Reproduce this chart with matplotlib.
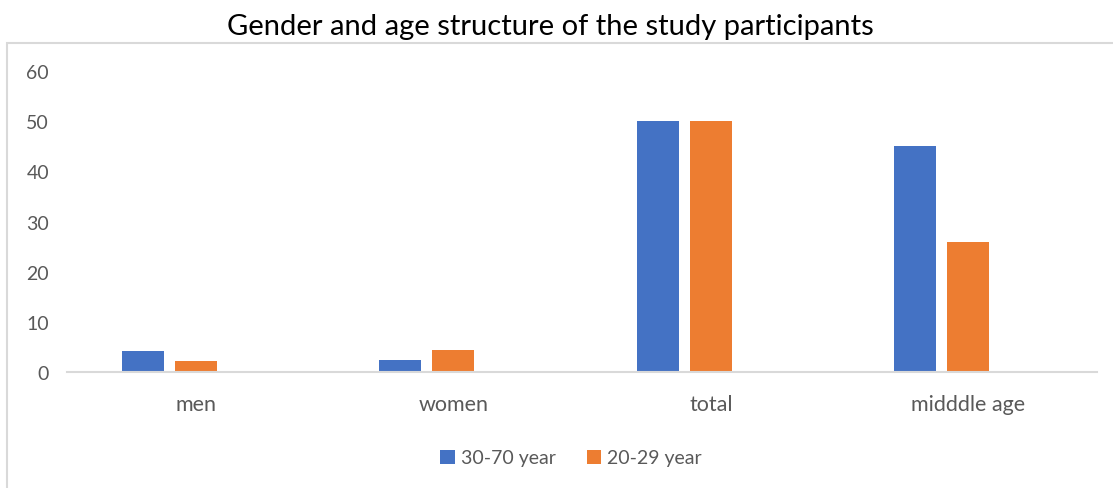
import matplotlib
matplotlib.use("Agg")
from matplotlib import pyplot as plt
from matplotlib.patches import Rectangle
import numpy as np

plt.rcParams['font.family'] = ['Lato', 'DejaVu Sans']

categories = ["men", "women", "total", "midddle age"]
series_names = ["30-70 year", "20-29 year"]
blue_vals = [4.2, 2.4, 50, 45]
orange_vals = [2.2, 4.3, 50, 26]

blue = "#4472C4"
orange = "#ED7D31"
grey = "#595959"

fig = plt.figure(figsize=(11.13, 4.89), dpi=100)

# outer chart frame (cropped in the reference)
fig.patches.append(Rectangle((7 / 1113, -0.1), 1.2, 1 - 44 / 489 + 0.1,
                             transform=fig.transFigure, fill=False,
                             edgecolor="#D9D9D9", linewidth=1.5))

ax = fig.add_axes([67 / 1113, 1 - 373 / 489, 1030 / 1113, 301 / 489])

x = np.arange(len(categories))
w = 42 / 257.5
step = 53 / 257.5
ax.bar(x - step, blue_vals, w, color=blue, label=series_names[0])
ax.bar(x, orange_vals, w, color=orange, label=series_names[1])

ax.set_xlim(-0.5, 3.5)
ax.set_ylim(0, 60)
ax.set_yticks(range(0, 61, 10))
ax.set_xticks(x)
ax.set_xticklabels(categories)

for s in ["top", "right", "left"]:
    ax.spines[s].set_visible(False)
ax.spines["bottom"].set_color("#D9D9D9")
ax.spines["bottom"].set_linewidth(1.5)
ax.tick_params(axis="both", length=0, colors=grey)
ax.tick_params(axis="x", pad=16, labelsize=15.5)
ax.tick_params(axis="y", pad=13, labelsize=14)

fig.text(550 / 1113, 1 - 27 / 489, "Gender and age structure of the study participants",
         ha="center", va="center", fontsize=21, color="black")

fig.legend(loc="center", bbox_to_anchor=(571 / 1113, 1 - 459 / 489), ncol=2,
           frameon=False, fontsize=14, labelcolor=grey, handlelength=0.75,
           handleheight=0.75, handletextpad=0.3, columnspacing=1.6)

plt.savefig("out.png")
